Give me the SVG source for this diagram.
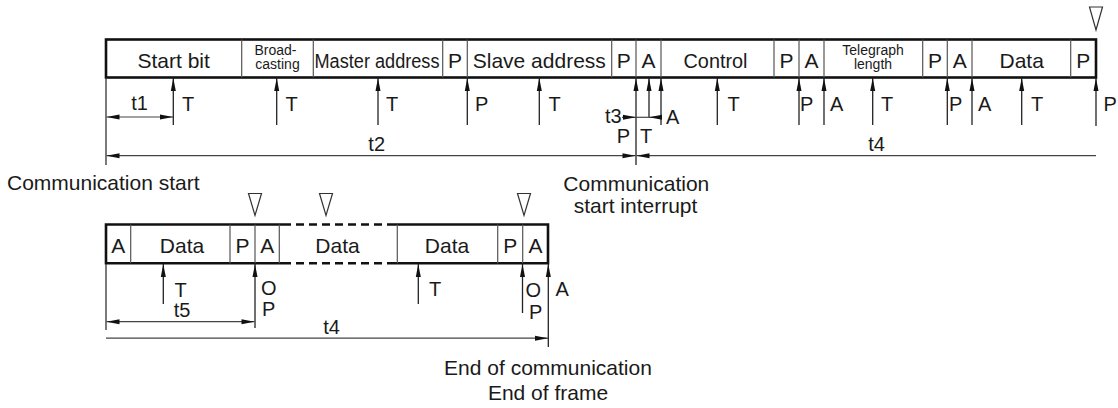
<svg xmlns="http://www.w3.org/2000/svg" width="1118" height="408" viewBox="0 0 1118 408">
<style>
  text { font-family: "Liberation Sans", Arial, Helvetica, sans-serif; fill: #1a1a1a; }
  .big { font-size: 21px; text-anchor: middle; }
  .small { font-size: 14px; text-anchor: middle; }
  .lbl { font-size: 20px; }
  .mid { text-anchor: middle; }
  .border { fill: none; stroke: #111; stroke-width: 2.6; }
  .dash { fill: none; stroke: #111; stroke-width: 2.6; stroke-dasharray: 8 5; }
  .sep { stroke: #555; stroke-width: 1.2; }
  .arr { stroke: #222; stroke-width: 1.3; fill: none; marker-end: url(#ah); }
  .ln { stroke: #333; stroke-width: 1.3; fill: none; }
  .dim { stroke: #444; stroke-width: 1.2; fill: none; }
  .tri { fill: none; stroke: #333; stroke-width: 1.2; }
</style>
<defs>
  <marker id="ah" markerUnits="userSpaceOnUse" markerWidth="13" markerHeight="5" refX="13" refY="2.5" orient="auto-start-reverse" overflow="visible">
    <path d="M0,0 L13,2.5 L0,5 Z" fill="#111"/>
  </marker>
</defs>

<!-- Top frame -->
<g id="frame-top">
  <rect class="border" x="106" y="39.5" width="990" height="38"/>
  <g id="c-startbit"><text class="big" x="173.7" y="68">Start bit</text><line class="sep" x1="241.7" y1="39.5" x2="241.7" y2="77.5"/></g>
  <g id="c-broadcasting"><text class="small" x="275.5" y="54.5">Broad-</text><text class="small" x="277.5" y="68.5">casting</text><line class="sep" x1="313.3" y1="39.5" x2="313.3" y2="77.5"/></g>
  <g id="c-master"><text class="big" x="377" y="68" style="font-size:19.5px" textLength="125" lengthAdjust="spacingAndGlyphs">Master address</text><line class="sep" x1="442.7" y1="39.5" x2="442.7" y2="77.5"/></g>
  <g id="c-p1"><text class="big" x="455" y="68">P</text><line class="sep" x1="467.3" y1="39.5" x2="467.3" y2="77.5"/></g>
  <g id="c-slave"><text class="big" x="539.3" y="68">Slave address</text><line class="sep" x1="611.7" y1="39.5" x2="611.7" y2="77.5"/></g>
  <g id="c-p2"><text class="big" x="623.8" y="68">P</text><line class="sep" x1="636" y1="39.5" x2="636" y2="77.5"/></g>
  <g id="c-a1"><text class="big" x="648.5" y="68">A</text><line class="sep" x1="661" y1="39.5" x2="661" y2="77.5"/></g>
  <g id="c-control"><text class="big" x="715.5" y="68" textLength="64" lengthAdjust="spacingAndGlyphs">Control</text><line class="sep" x1="774" y1="39.5" x2="774" y2="77.5"/></g>
  <g id="c-p3"><text class="big" x="786.5" y="68">P</text><line class="sep" x1="799" y1="39.5" x2="799" y2="77.5"/></g>
  <g id="c-a2"><text class="big" x="811.5" y="68">A</text><line class="sep" x1="824" y1="39.5" x2="824" y2="77.5"/></g>
  <g id="c-telegraph"><text class="small" x="873" y="54.5">Telegraph</text><text class="small" x="873" y="68.5">length</text><line class="sep" x1="922.7" y1="39.5" x2="922.7" y2="77.5"/></g>
  <g id="c-p4"><text class="big" x="935" y="68">P</text><line class="sep" x1="947.3" y1="39.5" x2="947.3" y2="77.5"/></g>
  <g id="c-a3"><text class="big" x="959.7" y="68">A</text><line class="sep" x1="972" y1="39.5" x2="972" y2="77.5"/></g>
  <g id="c-data1"><text class="big" x="1021.7" y="68">Data</text><line class="sep" x1="1070.7" y1="39.5" x2="1070.7" y2="77.5"/></g>
  <g id="c-p5"><text class="big" x="1083.3" y="68">P</text></g>
  <polygon class="tri" points="1089.5,7 1102.5,7 1096,30"/>
</g>

<!-- Bottom frame -->
<g id="frame-bottom">
  <path class="border" d="M291,224.5 L106,224.5 L106,263.2 L291,263.2"/>
  <path class="border" d="M387,224.5 L548,224.5 L548,263.2 L387,263.2"/>
  <line class="dash" x1="296" y1="224.5" x2="382" y2="224.5"/>
  <line class="dash" x1="296" y1="263.2" x2="382" y2="263.2"/>
  <g id="b-a1"><text class="big" x="118.3" y="253">A</text><line class="sep" x1="130.7" y1="224.5" x2="130.7" y2="263.2"/></g>
  <g id="b-data1"><text class="big" x="182" y="253">Data</text><line class="sep" x1="230" y1="224.5" x2="230" y2="263.2"/></g>
  <g id="b-p1"><text class="big" x="242.5" y="253">P</text><line class="sep" x1="255" y1="224.5" x2="255" y2="263.2"/></g>
  <g id="b-a2"><text class="big" x="267.2" y="253">A</text><line class="sep" x1="279.3" y1="224.5" x2="279.3" y2="263.2"/></g>
  <g id="b-data2"><text class="big" x="337.5" y="253">Data</text><line class="sep" x1="397.3" y1="224.5" x2="397.3" y2="263.2"/></g>
  <g id="b-data3"><text class="big" x="447" y="253">Data</text><line class="sep" x1="497.7" y1="224.5" x2="497.7" y2="263.2"/></g>
  <g id="b-p2"><text class="big" x="510.2" y="253">P</text><line class="sep" x1="522.7" y1="224.5" x2="522.7" y2="263.2"/></g>
  <g id="b-a3"><text class="big" x="535.5" y="253">A</text></g>
  <polygon class="tri" points="248.5,193.5 261.5,193.5 255,215.5"/>
  <polygon class="tri" points="319.5,193.5 332.5,193.5 326,215.5"/>
  <polygon class="tri" points="517.5,193.5 530.5,193.5 524,215.5"/>
</g>

<!-- Connectors -->
<g id="connectors">
  <!-- top timing arrows -->
  <line class="ln" x1="106" y1="78" x2="106" y2="165"/>
  <line class="arr" x1="173.3" y1="125" x2="173.3" y2="78"/>
  <line class="arr" x1="276.7" y1="125" x2="276.7" y2="78"/>
  <line class="arr" x1="378" y1="125" x2="378" y2="78"/>
  <line class="arr" x1="467.3" y1="125" x2="467.3" y2="78"/>
  <line class="arr" x1="539.3" y1="125" x2="539.3" y2="78"/>
  <line class="arr" x1="636" y1="165" x2="636" y2="78"/>
  <line class="arr" x1="649" y1="117.3" x2="649" y2="78"/>
  <line class="arr" x1="661" y1="125" x2="661" y2="78"/>
  <line class="arr" x1="717.3" y1="125" x2="717.3" y2="78"/>
  <line class="arr" x1="799" y1="125" x2="799" y2="78"/>
  <line class="arr" x1="824" y1="125" x2="824" y2="78"/>
  <line class="arr" x1="872.7" y1="125" x2="872.7" y2="78"/>
  <line class="arr" x1="947.3" y1="125" x2="947.3" y2="78"/>
  <line class="arr" x1="972" y1="125" x2="972" y2="78"/>
  <line class="arr" x1="1021.7" y1="125" x2="1021.7" y2="78"/>
  <line class="arr" x1="1096" y1="126" x2="1096" y2="78"/>
  <!-- t1 -->
  <line class="dim" x1="106.5" y1="117" x2="173" y2="117" marker-start="url(#ah)" marker-end="url(#ah)"/>
  <!-- t3 -->
  <line class="dim" x1="622" y1="117.3" x2="636" y2="117.3" marker-end="url(#ah)"/>
  <line class="dim" x1="636" y1="117.3" x2="649" y2="117.3"/>
  <line class="dim" x1="661" y1="117.3" x2="649" y2="117.3" marker-end="url(#ah)"/>
  <!-- t2 / t4 -->
  <line class="dim" x1="106.5" y1="155.7" x2="635.5" y2="155.7" marker-start="url(#ah)" marker-end="url(#ah)"/>
  <line class="dim" x1="636.5" y1="155.7" x2="1096" y2="155.7" marker-start="url(#ah)"/>

  <!-- bottom timing arrows -->
  <line class="ln" x1="106" y1="264" x2="106" y2="330"/>
  <line class="arr" x1="163.3" y1="304" x2="163.3" y2="264"/>
  <line class="arr" x1="255" y1="328" x2="255" y2="264"/>
  <line class="arr" x1="418.3" y1="304" x2="418.3" y2="264"/>
  <line class="arr" x1="522.5" y1="313" x2="522.5" y2="264"/>
  <line class="arr" x1="548.3" y1="347" x2="548.3" y2="264"/>
  <!-- t5 -->
  <line class="dim" x1="106.5" y1="321.7" x2="254.5" y2="321.7" marker-start="url(#ah)" marker-end="url(#ah)"/>
  <!-- t4 bottom -->
  <line class="dim" x1="106" y1="338.2" x2="548" y2="338.2" marker-end="url(#ah)"/>
</g>

<!-- Labels -->
<g id="labels">
  <text class="lbl" x="182" y="110.5">T</text>
  <text class="lbl" x="285.5" y="110.5">T</text>
  <text class="lbl" x="386" y="110.5">T</text>
  <text class="lbl" x="475" y="110.5">P</text>
  <text class="lbl" x="548.5" y="110.5">T</text>
  <text class="lbl" x="666" y="124">A</text>
  <text class="lbl" x="727.5" y="110.5">T</text>
  <text class="lbl" x="800" y="111">P</text>
  <text class="lbl" x="830" y="111">A</text>
  <text class="lbl" x="881" y="110.5">T</text>
  <text class="lbl" x="949" y="111">P</text>
  <text class="lbl" x="978" y="111">A</text>
  <text class="lbl" x="1031" y="110.5">T</text>
  <text class="lbl" x="1103.5" y="111">P</text>
  <text class="lbl mid" x="139.5" y="110">t1</text>
  <text class="lbl mid" x="613.3" y="122.5">t3</text>
  <text class="lbl" x="616.7" y="143">P</text>
  <text class="lbl" x="640" y="143">T</text>
  <text class="lbl mid" x="376.7" y="150.5">t2</text>
  <text class="lbl mid" x="876.5" y="150.5">t4</text>

  <text class="lbl" x="174.5" y="297">T</text>
  <text class="lbl mid" x="182" y="316.5">t5</text>
  <text class="lbl" x="261" y="294.5">O</text>
  <text class="lbl" x="262" y="316">P</text>
  <text class="lbl" x="429" y="296">T</text>
  <text class="lbl" x="525.5" y="297">O</text>
  <text class="lbl" x="529" y="318.5">P</text>
  <text class="lbl" x="555.5" y="296">A</text>
  <text class="lbl mid" x="331.5" y="333.5">t4</text>

  <text class="big" x="7" y="190" style="text-anchor:start">Communication start</text>
  <text class="big" x="636.3" y="190.5">Communication</text>
  <text class="big" x="635.5" y="212.7">start interrupt</text>
  <text class="big" x="548" y="375">End of communication</text>
  <text class="big" x="548" y="400">End of frame</text>
</g>
</svg>
